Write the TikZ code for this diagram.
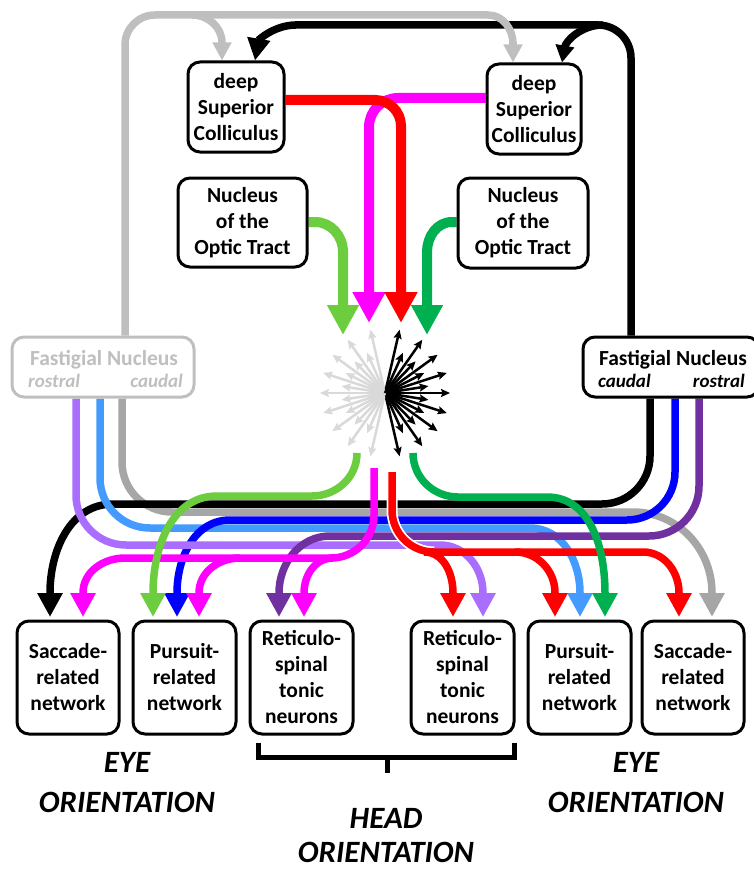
\documentclass[tikz,border=0pt]{standalone}
\usepackage{fontspec}
\setmainfont{Carlito}
\usetikzlibrary{arrows.meta,calc,backgrounds}
\definecolor{cGrayL}{HTML}{BFBFBF}
\definecolor{cGrayD}{HTML}{A6A6A6}
\definecolor{cStar}{HTML}{D9D9D9}
\definecolor{cLGreen}{HTML}{6CCD3F}
\definecolor{cDGreen}{HTML}{00B050}
\definecolor{cLBlue}{HTML}{449BFF}
\definecolor{cBlue}{HTML}{0000FF}
\definecolor{cLPurple}{HTML}{AA6EFF}
\definecolor{cDPurple}{HTML}{7030A0}
\definecolor{cRed}{HTML}{FF0000}
\definecolor{cMag}{HTML}{FF00FF}
\begin{document}
\begin{tikzpicture}[x=1pt,y=-1pt,
  box/.style={draw=black,line width=3pt,rounded corners=12pt,fill=white,align=center,inner sep=0pt,
    font=\bfseries\fontsize{21.5}{26}\selectfont},
  ln/.style={line width=7.5pt},
  tipB/.style={-{Triangle[width=24pt,length=24pt]}},
  tipT/.style={-{Triangle[width=31pt,length=31pt]}},
  ray/.style={line width=2.5pt,-{Stealth[length=9pt,width=8pt,inset=1.5pt]}},
  lab/.style={font=\bfseries\itshape\fontsize{31}{36}\selectfont,inner sep=0pt},
  fnt/.style={font=\bfseries\fontsize{21.5}{26}\selectfont,inner sep=0pt},
  fni/.style={font=\bfseries\itshape\fontsize{19}{22}\selectfont,inner sep=0pt},
]
\useasboundingbox (0,0) rectangle (754,872);

% boxes
\node[box,minimum width=96pt,minimum height=90pt] (dscL) at (236,107) {deep\\Superior\\Colliculus};
\node[box,minimum width=94pt,minimum height=90pt] (dscR) at (534,109) {deep\\Superior\\Colliculus};
\node[box,minimum width=129pt,minimum height=89pt] (notL) at (242.5,222.5) {Nucleus\\of the\\Optic Tract};
\node[box,minimum width=130pt,minimum height=90pt] (notR) at (523,223) {Nucleus\\of the\\Optic Tract};
\node[box,draw=cGrayL,minimum width=182pt,minimum height=60pt] (fnL) at (103,367) {};
\node[box,minimum width=176pt,minimum height=60pt] (fnR) at (671,367) {};
\node[fnt,anchor=base,text=cGrayL] (fnLt) at (104,365) {Fastigial Nucleus};
\node[fni,anchor=base west,text=cGrayL] (fnLr) at (28,387) {rostral};
\node[fni,anchor=base east,text=cGrayL] (fnLc) at (183,387) {caudal};
\node[fnt,anchor=base] (fnRt) at (673,365) {Fastigial Nucleus};
\node[fni,anchor=base west] (fnRc) at (598,387) {caudal};
\node[fni,anchor=base east] (fnRr) at (745,387) {rostral};

\node[box,minimum width=102pt,minimum height=113pt] (sacL) at (68,677.5) {Saccade-\\related\\network};
\node[box,minimum width=103pt,minimum height=113pt] (purL) at (184.5,677.5) {Pursuit-\\related\\network};
\node[box,minimum width=103pt,minimum height=113pt] (retL) at (301.5,677.5) {Reticulo-\\spinal\\tonic\\neurons};
\node[box,minimum width=103pt,minimum height=113pt] (retR) at (462.5,677.5) {Reticulo-\\spinal\\tonic\\neurons};
\node[box,minimum width=103pt,minimum height=113pt] (purR) at (579.5,677.5) {Pursuit-\\related\\network};
\node[box,minimum width=102pt,minimum height=113pt] (sacR) at (693,677.5) {Saccade-\\related\\network};

\node[lab,anchor=base] (eyeL1) at (127,772) {EYE};
\node[lab,anchor=base] (eyeL2) at (127,812) {ORIENTATION};
\node[lab,anchor=base] (eyeR1) at (636,772) {EYE};
\node[lab,anchor=base] (eyeR2) at (636,812) {ORIENTATION};
\node[lab,anchor=base] (head1) at (386,828) {HEAD};
\node[lab,anchor=base] (head2) at (386,862) {ORIENTATION};

% bracket
\draw[line width=5pt] (258,743) -- (258,757) -- (514,757) -- (514,743);
\draw[line width=5pt] (387,757) -- (387,773);

\coordinate (c) at (385,393);

\begin{pgfonlayer}{background}
\fill[white] (0,0) rectangle (754,872);

% starburst
\foreach \a/\l in {0/65,18/65,-18/65,36/65,-36/65,55/65,-55/65,77/65,-77/65,9/44,-9/44,27/44,-27/44,46/44,-46/44,66/44,-66/44}{
  \draw[ray,cStar] (c) -- ($(c)+(180+\a:\l)$);
  \draw[ray,black] (c) -- ($(c)+(\a:\l)$);
}

% top loops
\draw[ln,black] (fnR.north -| 631,0) -- (631,58) to[out=90,in=0] (598,25) -- (295,25);
\draw[ln,black,-{Triangle[width=22pt,length=22pt]}] (296,25) to[out=180,in=80] (dscL.north -| 255,0);
\draw[ln,black,-{Triangle[width=18pt,length=17pt]}] (603,25) to[out=180,in=80] (dscR.north -| 562,0);
\draw[ln,cGrayL] (fnL.north -| 125,0) -- (125,45) to[out=90,in=180] (155,15) -- (488,15) to[out=0,in=90] (513,44);
\draw[ln,cGrayL,-{Triangle[width=18pt,length=18pt]}] (513,42) -- (dscR.north -| 513,0);
\draw[ln,cGrayL,-{Triangle[width=18pt,length=18pt]}] (192,15) to[out=0,in=90] (222,43) -- (dscL.north -| 222,0);

% top center inputs
\draw[line width=10pt,cMag,tipT] (dscR.west |- 0,98) -- (398,98) to[out=180,in=90] (369,127) -- (369,323);
\draw[line width=10pt,cRed,tipT] (dscL.east |- 0,100) -- (375,100) to[out=0,in=90] (401,126) -- (401,323);
\draw[line width=10pt,cLGreen,-{Triangle[width=30pt,length=30pt]}] (notL.east |- 0,222) -- (315,222) to[out=0,in=90] (343,252) -- (343,335);
\draw[line width=10pt,cDGreen,-{Triangle[width=30pt,length=30pt]}] (notR.west |- 0,222) -- (452,222) to[out=180,in=90] (427,252) -- (427,335);

% bottom buses
\draw[ln,cGrayD,tipB] (fnL.south -| 122,0) -- (122,462) to[out=-90,in=180] (172,512) -- (633,512) to[out=0,in=90] (712,593) -- (712,617);
\draw[ln,black,tipB] (fnR.south -| 650,0) -- (650,456) to[out=-90,in=0] (602,504) -- (113,504) to[out=180,in=90] (50,593) -- (50,617);
\draw[ln,cLBlue,tipB] (fnL.south -| 100,0) -- (100,478) to[out=-90,in=180] (150,528) -- (530,528) to[out=0,in=90] (580,593) -- (580,617);
\draw[ln,cBlue,tipB] (fnR.south -| 675,0) -- (675,472) to[out=-90,in=0] (627,520) -- (230,520) to[out=180,in=90] (177,593) -- (177,617);
\draw[ln,cLPurple,tipB] (fnL.south -| 76,0) -- (76,495) to[out=-90,in=180] (126,545) -- (440,545) to[out=0,in=90] (483,593) -- (483,617);
\draw[ln,cDPurple,tipB] (fnR.south -| 699,0) -- (699,486) to[out=-90,in=0] (649,536) -- (330,536) to[out=180,in=90] (279,593) -- (279,617);

% magenta
\draw[ln,cMag,tipB] (374,468) -- (374,515) to[out=-90,in=0] (331,558) -- (125,558) to[out=180,in=90] (83,593) -- (83,617);
\draw[ln,cMag,tipB] (240,558) to[out=180,in=90] (199,593) -- (199,617);
\draw[ln,cMag,tipB] (333,558) to[out=180,in=90] (304,593) -- (304,617);

% red
\draw[white,line width=11pt] (392,472) -- (392,510) to[out=-90,in=180] (434,552);
\draw[ln,cRed,tipB] (392,472) -- (392,510) to[out=-90,in=180] (434,552) -- (643,552) to[out=0,in=90] (679,593) -- (679,617);
\draw[ln,cRed,tipB] (424,552) to[out=0,in=90] (453,593) -- (453,617);
\draw[ln,cRed,tipB] (515,552) to[out=0,in=90] (555,593) -- (555,617);

% greens
\draw[ln,cLGreen,tipB] (357,453) to[out=-90,in=0] (312,496) -- (217,496) to[out=180,in=90] (153,593) -- (153,617);
\draw[ln,cDGreen,tipB] (413,453) to[out=-90,in=180] (458,497) -- (547,497) to[out=0,in=90] (605,593) -- (605,617);
\end{pgfonlayer}
\end{tikzpicture}
\end{document}
